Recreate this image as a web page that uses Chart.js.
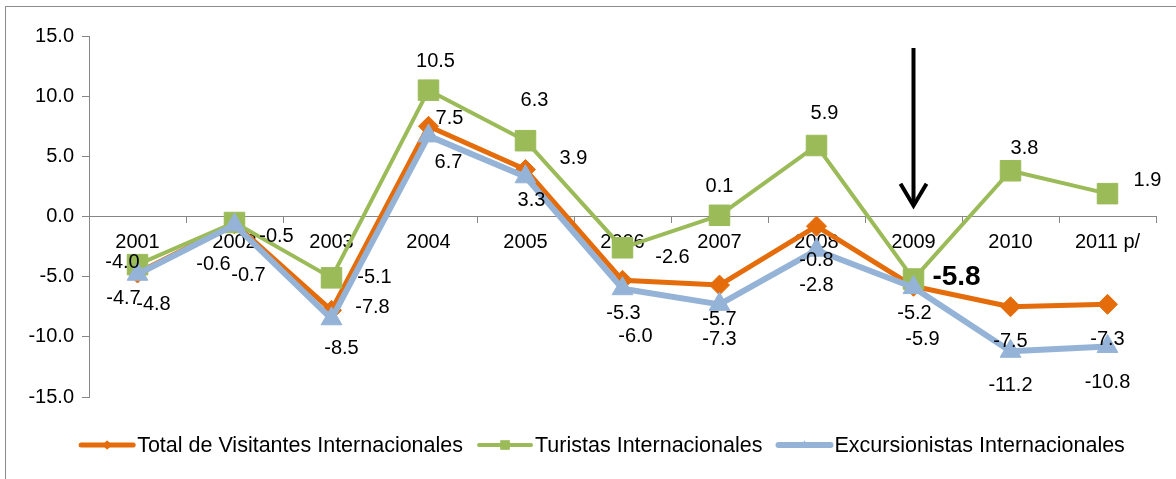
<!DOCTYPE html>
<html>
<head>
<meta charset="utf-8">
<script src="https://cdn.jsdelivr.net/npm/chart.js@4.4.1/dist/chart.umd.min.js"></script>
<style>
  html, body { margin: 0; padding: 0; background: #fff; }
  #wrap { position: relative; width: 1176px; height: 479px; overflow: hidden; }
  #frame { position: absolute; left: 5px; top: 6px; width: 1300px; height: 600px;
           border-left: 1px solid #8c8c8c; border-top: 1px solid #8c8c8c; }
  canvas { position: absolute; left: 0; top: 0; }
</style>
</head>
<body>
<div id="wrap">
  <div id="frame"></div>
  <canvas id="chart" width="1176" height="479"></canvas>
</div>
<script>
const years = ['2001', '2002', '2003', '2004', '2005', '2006', '2007', '2008', '2009', '2010', '2011 p/'];
const totalVisitantes = [-4.7, -0.6, -7.8, 7.5, 3.9, -5.3, -5.7, -0.8, -5.8, -7.5, -7.3];
const turistas        = [-4.0, -0.5, -5.1, 10.5, 6.3, -2.6, 0.1, 5.9, -5.2, 3.8, 1.9];
const excursionistas  = [-4.8, -0.7, -8.5, 6.7, 3.3, -6.0, -7.3, -2.8, -5.9, -11.2, -10.8];
const seriesNames = ['Total de Visitantes Internacionales', 'Turistas Internacionales', 'Excursionistas Internacionales'];
const yMin = -15, yMax = 15, yStep = 5;
const arrowYear = '2009';

// where each value label sits, in px from its point (Excel placed them by hand)
const totalLabelOff = [[-14, 25], [-21, 41], [41, -3], [21, -8], [48, -11], [1, 33], [0, 34], [0, 34], [43, -9], [0, 35], [0, 35]];
const turLabelOff   = [[-15, -2], [42, 14], [43, 0], [7, -29], [9, -40], [50, 10], [0, -29], [8, -32], [1, 34], [14, -22], [40, -13]];
const excLabelOff   = [[16, 30], [14, 51], [10, 30], [20, 27], [6, 24], [13, 48], [0, 35], [0, 35], [9, 52], [0, 34], [0, 36]];

const FONT = '"Liberation Sans", Arial, sans-serif';
const AXIS = '#868686';

const valueLabels = {
  id: 'valueLabels',
  afterDatasetsDraw(chart) {
    const ctx = chart.ctx;
    ctx.save();
    ctx.textAlign = 'center';
    ctx.textBaseline = 'middle';
    ctx.fillStyle = '#000';
    chart.data.datasets.forEach((ds, di) => {
      chart.getDatasetMeta(di).data.forEach((pt, i) => {
        const [dx, dy] = ds.labelOff[i];
        ctx.font = ds.boldIdx === i ? 'bold 28px ' + FONT : '20px ' + FONT;
        ctx.fillText(ds.data[i].toFixed(1), pt.x + dx, pt.y + dy);
      });
    });
    ctx.restore();
  }
};

const arrow = {
  id: 'arrow',
  afterDraw(chart) {
    const { ctx, scales: { x, y } } = chart;
    const ax = x.getPixelForValue(years.indexOf(arrowYear));
    const top = y.getPixelForValue(14), tip = y.getPixelForValue(0.9);
    ctx.save();
    ctx.strokeStyle = '#000';
    ctx.lineWidth = 4;
    ctx.beginPath();
    ctx.moveTo(ax, top); ctx.lineTo(ax, tip - 2);
    ctx.stroke();
    ctx.beginPath();
    ctx.moveTo(ax - 13, tip - 22); ctx.lineTo(ax, tip); ctx.lineTo(ax + 13, tip - 22);
    ctx.stroke();
    ctx.restore();
  }
};

const legend = {
  id: 'excelLegend',
  afterDraw(chart) {
    const ctx = chart.ctx;
    const ly = 445, lineW = 54, gap = 4, itemGap = 14;
    ctx.save();
    ctx.font = '21.5px ' + FONT;
    ctx.textBaseline = 'middle';
    ctx.textAlign = 'left';
    const widths = chart.data.datasets.map(ds => lineW + gap + ctx.measureText(ds.label).width);
    const total = widths.reduce((a, b) => a + b, 0) + itemGap * (widths.length - 1);
    let lx = 602 - total / 2;
    chart.data.datasets.forEach((ds, i) => {
      ctx.strokeStyle = ds.borderColor;
      ctx.lineWidth = ds.borderWidth;
      ctx.lineCap = 'round';
      ctx.beginPath();
      ctx.moveTo(lx + 2, ly); ctx.lineTo(lx + lineW, ly);
      ctx.stroke();
      ctx.fillStyle = ds.borderColor;
      ctx.beginPath();
      Chart.helpers.drawPoint(ctx, { pointStyle: ds.pointStyle, radius: ds.legendRadius, rotation: 0, borderWidth: 0 }, lx + lineW / 2 + 1, ly);
      ctx.fill();
      ctx.fillStyle = '#000';
      ctx.fillText(ds.label, lx + lineW + gap, ly + 1);
      lx += widths[i] + itemGap;
    });
    ctx.restore();
  }
};

function series(label, data, color, width, style, radius, legendRadius, order, labelOff) {
  return {
    label, data, order, labelOff, legendRadius,
    borderColor: color, backgroundColor: color, borderWidth: width,
    borderJoinStyle: 'round', borderCapStyle: 'round',
    pointStyle: style, pointRadius: radius, pointHoverRadius: radius,
    pointBackgroundColor: color, pointBorderColor: color, pointBorderWidth: 1,
    tension: 0, fill: false,
  };
}

const dsTotal = series(seriesNames[0], totalVisitantes, '#E46C0A', 5, 'rectRot', 10, 4.5, 3, totalLabelOff);
dsTotal.boldIdx = years.indexOf(arrowYear);
const dsTur = series(seriesNames[1], turistas, '#9BBB59', 4, 'rect', 14.5, 6.5, 2, turLabelOff);
const dsExc = series(seriesNames[2], excursionistas, '#95B3D7', 6, 'triangle', 12, 4.5, 1, excLabelOff);

new Chart(document.getElementById('chart'), {
  type: 'line',
  data: { labels: years, datasets: [dsTotal, dsTur, dsExc] },
  options: {
    responsive: false, animation: false,
    layout: { padding: { left: 0, right: 20, top: 36, bottom: 82 } },
    scales: {
      x: {
        type: 'category', offset: true, position: { y: 0 },
        grid: { display: true, drawOnChartArea: false, drawTicks: true, tickLength: 6, offset: true, color: AXIS },
        border: { display: true, color: AXIS, width: 1 },
        ticks: { color: '#000', font: { family: FONT, size: 20 }, padding: 8, maxRotation: 0, autoSkip: false },
      },
      y: {
        min: yMin, max: yMax,
        grid: { display: true, drawOnChartArea: false, drawTicks: true, tickLength: 7, color: AXIS },
        border: { display: true, color: AXIS, width: 1 },
        ticks: { stepSize: yStep, color: '#000', font: { family: FONT, size: 20 }, padding: 8,
                 callback: v => v.toFixed(1) },
        afterFit: s => { s.width = 89; },
      },
    },
    plugins: { legend: { display: false }, tooltip: { enabled: false } },
  },
  plugins: [valueLabels, arrow, legend],
});
</script>
</body>
</html>
